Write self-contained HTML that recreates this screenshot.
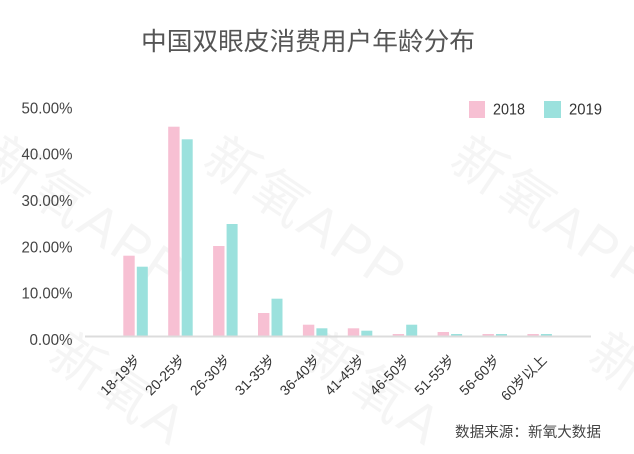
<!DOCTYPE html>
<html>
<head>
<meta charset="utf-8">
<style>
  html, body { margin: 0; padding: 0; background: #ffffff; width: 634px; height: 454px; overflow: hidden; }
  svg { display: block; overflow: hidden; }
  text { font-family: "Liberation Sans", "Noto Sans CJK SC", sans-serif; }
</style>
</head>
<body>
<svg width="634" height="454" viewBox="0 0 634 454" xmlns="http://www.w3.org/2000/svg">
  <rect x="0" y="0" width="634" height="454" fill="#ffffff"/>

  <!-- watermarks -->
  <g fill="#000" fill-opacity="0.04" font-size="54" letter-spacing="3">
    <text x="-20" y="166" transform="rotate(34 -20 166)">新氧APP</text>
    <text x="200" y="166" transform="rotate(34 200 166)">新氧APP</text>
    <text x="447" y="166" transform="rotate(34 447 166)">新氧APP</text>
    <text x="45" y="362" transform="rotate(34 45 362)">新氧A</text>
    <text x="300" y="362" transform="rotate(34 300 362)">新氧A</text>
    <text x="585" y="362" transform="rotate(34 585 362)">新</text>
  </g>

  <!-- title -->
  <text x="141" y="50" font-size="25" fill="#555555" textLength="334" lengthAdjust="spacingAndGlyphs">中国双眼皮消费用户年龄分布</text>

  <!-- y axis labels -->
  <g font-size="16" fill="#444444" text-anchor="end">
    <text x="72.5" y="113.4" textLength="51" lengthAdjust="spacingAndGlyphs">50.00%</text>
    <text x="72.5" y="159.7" textLength="51" lengthAdjust="spacingAndGlyphs">40.00%</text>
    <text x="72.5" y="206" textLength="51" lengthAdjust="spacingAndGlyphs">30.00%</text>
    <text x="72.5" y="252.4" textLength="51" lengthAdjust="spacingAndGlyphs">20.00%</text>
    <text x="72.5" y="298.7" textLength="51" lengthAdjust="spacingAndGlyphs">10.00%</text>
    <text x="72.5" y="345" textLength="43" lengthAdjust="spacingAndGlyphs">0.00%</text>
  </g>

  <!-- legend -->
  <rect x="469" y="101" width="16" height="17" fill="#f7c0d3"/>
  <text x="493" y="114.5" font-size="16" fill="#333333" textLength="32" lengthAdjust="spacingAndGlyphs">2018</text>
  <rect x="544" y="101" width="17" height="17" fill="#9be1dd"/>
  <text x="569" y="114.5" font-size="16" fill="#333333" textLength="33" lengthAdjust="spacingAndGlyphs">2019</text>

  <!-- bars 2018 (pink) -->
  <g fill="#f7c0d3">
    <rect x="123.3" y="255.7" width="11.4" height="80.3"/>
    <rect x="168.2" y="126.7" width="11.4" height="209.3"/>
    <rect x="213.1" y="246" width="11.4" height="90"/>
    <rect x="258.0" y="313" width="11.4" height="23"/>
    <rect x="302.9" y="324.7" width="11.4" height="11.3"/>
    <rect x="347.8" y="328.3" width="11.4" height="7.7"/>
    <rect x="392.7" y="334" width="11.4" height="2"/>
    <rect x="437.6" y="332" width="11.4" height="4"/>
    <rect x="482.5" y="334" width="11.4" height="2"/>
    <rect x="527.4" y="334" width="11.4" height="2"/>
  </g>
  <!-- bars 2019 (teal) -->
  <g fill="#9be1dd">
    <rect x="136.8" y="266.7" width="11" height="69.3"/>
    <rect x="181.7" y="139.3" width="11" height="196.7"/>
    <rect x="226.6" y="224" width="11" height="112"/>
    <rect x="271.5" y="298.7" width="11" height="37.3"/>
    <rect x="316.4" y="328.3" width="11" height="7.7"/>
    <rect x="361.3" y="330.7" width="11" height="5.3"/>
    <rect x="406.2" y="324.7" width="11" height="11.3"/>
    <rect x="451.1" y="334" width="11" height="2"/>
    <rect x="496.0" y="334" width="11" height="2"/>
    <rect x="540.9" y="334" width="11" height="2"/>
  </g>

  <!-- axis line -->
  <rect x="85" y="335.5" width="506" height="2" fill="#dcdcdc"/>

  <!-- x labels -->
  <g font-size="14" fill="#333333" text-anchor="end">
    <text x="141.3" y="361" transform="rotate(-45 141.3 361)">18-19岁</text>
    <text x="186.2" y="361" transform="rotate(-45 186.2 361)">20-25岁</text>
    <text x="231.1" y="361" transform="rotate(-45 231.1 361)">26-30岁</text>
    <text x="276.0" y="361" transform="rotate(-45 276.0 361)">31-35岁</text>
    <text x="320.9" y="361" transform="rotate(-45 320.9 361)">36-40岁</text>
    <text x="365.8" y="361" transform="rotate(-45 365.8 361)">41-45岁</text>
    <text x="410.7" y="361" transform="rotate(-45 410.7 361)">46-50岁</text>
    <text x="455.6" y="361" transform="rotate(-45 455.6 361)">51-55岁</text>
    <text x="500.5" y="361" transform="rotate(-45 500.5 361)">56-60岁</text>
    <text x="547.5" y="361" transform="rotate(-45 547.5 361)">60岁以上</text>
  </g>

  <!-- source -->
  <text x="455" y="437" font-size="14.5" fill="#444444" textLength="146" lengthAdjust="spacingAndGlyphs">数据来源：新氧大数据</text>
</svg>
</body>
</html>
